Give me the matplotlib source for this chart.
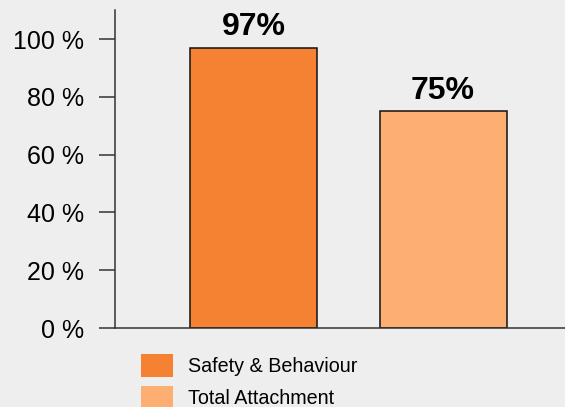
import matplotlib.pyplot as plt
from matplotlib.patches import Patch

categories = ["Safety & Behaviour", "Total Attachment"]
values = [97, 75]
colors = ["#F58232", "#FDAE72"]
yticks = [0, 20, 40, 60, 80, 100]

plt.rcParams["font.family"] = ["Liberation Sans", "DejaVu Sans"]

fig = plt.figure(figsize=(5.65, 4.07), dpi=100, facecolor="#EEEEEE")
ax = fig.add_axes([0.2035, 0.194, 0.7965, 0.781])
ax.set_facecolor("#EEEEEE")

x = [0, 1]
bars = ax.bar(x, values, width=0.672, color=colors, edgecolor="#111111", linewidth=1.1)
for xi, v in zip(x, values):
    ax.text(xi, v + 2, f"{v}%", ha="center", va="bottom", fontsize=23, fontweight="bold")

ax.set_xlim(-0.735, 1.645)
ax.set_ylim(0, 110)
ax.set_yticks(yticks)
ax.set_yticklabels([f"{t} %" for t in yticks], fontsize=18)
ax.set_xticks([])
ax.tick_params(axis="y", length=11.5, width=1.1, pad=11, color="#333333")
for s in ["top", "right"]:
    ax.spines[s].set_visible(False)
for s in ["left", "bottom"]:
    ax.spines[s].set_color("#333333")
    ax.spines[s].set_linewidth(1.1)

handles = [Patch(facecolor=c, edgecolor="none", label=l) for c, l in zip(colors, categories)]
fig.legend(handles=handles, loc="upper left", bbox_to_anchor=(0.2496, 0.13),
           frameon=False, fontsize=14.25, handlelength=1.6, handleheight=1.4,
           handletextpad=0.75, labelspacing=0.45, borderaxespad=0, borderpad=0)

plt.savefig("out.png", dpi=100, facecolor="#EEEEEE")
